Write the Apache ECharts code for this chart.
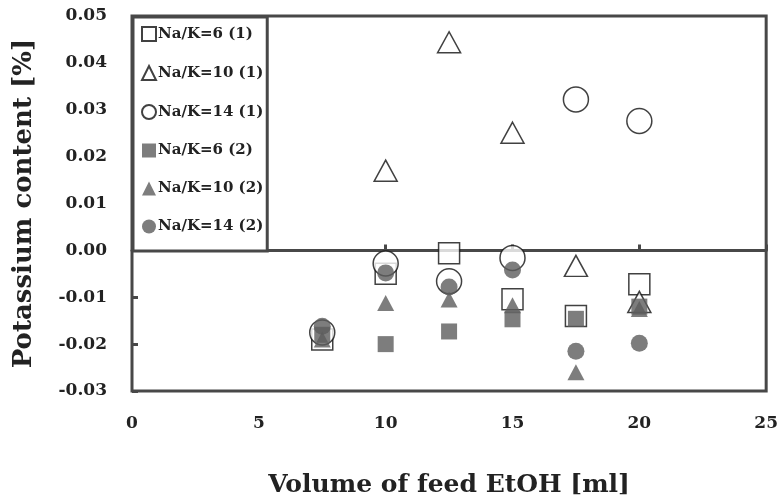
<!DOCTYPE html>
<html>
<head>
<meta charset="utf-8">
<script src="https://cdn.jsdelivr.net/npm/echarts@6/dist/echarts.min.js"></script>
<style>
html,body{margin:0;padding:0;background:#fff;}
#chart{width:781px;height:504px;}
</style>
</head>
<body>
<div id="chart"></div>
<script>
// Data
var volumes = [7.5, 10, 12.5, 15, 17.5, 20];
var na6_1  = [-0.019, -0.005, -0.0006, -0.0104, -0.014, -0.0072];
var na10_1 = [null, 0.017, 0.0444, 0.0251, -0.0033, -0.011];
var na14_1 = [-0.0175, -0.0028, -0.0066, -0.0016, 0.0322, 0.0276];
var na6_2  = [-0.018, -0.020, -0.0173, -0.0147, -0.0146, -0.012];
var na10_2 = [-0.019, -0.0112, -0.0105, -0.0117, -0.026, -0.0125];
var na14_2 = [-0.0162, -0.0048, -0.0078, -0.0042, -0.0215, -0.0198];
var seriesNames = ['Na/K=6 (1)', 'Na/K=10 (1)', 'Na/K=14 (1)', 'Na/K=6 (2)', 'Na/K=10 (2)', 'Na/K=14 (2)'];
var xTicks = [0, 5, 10, 15, 20, 25];
var yTicks = [-0.03, -0.02, -0.01, 0.00, 0.01, 0.02, 0.03, 0.04, 0.05];

function pairs(vals) {
  var out = [];
  for (var i = 0; i < volumes.length; i++) {
    if (vals[i] !== null) out.push([volumes[i], vals[i]]);
  }
  return out;
}

var FONT = '"DejaVu Serif", serif';
var DARK = '#484848';
var FILL = '#5c5c5c';

var openStyle = { color: '#ffffff', borderColor: '#111', borderWidth: 1.5 };
var filledStyle = { color: FILL, borderColor: FILL, borderWidth: 0 };

var chart = echarts.init(document.getElementById('chart'), null, { renderer: 'canvas' });
chart.setOption({
  animation: false,
  backgroundColor: '#ffffff',
  grid: {
    left: 132, right: 11, top: 16, bottom: 113,
    show: true, borderColor: DARK, borderWidth: 3, backgroundColor: 'transparent'
  },
  legend: {
    orient: 'vertical',
    left: 133, top: 17,
    backgroundColor: '#ffffff',
    borderColor: DARK, borderWidth: 3,
    padding: [9, 4, 17, 8],
    itemWidth: 14, itemHeight: 14, itemGap: 23,
    data: seriesNames,
    textStyle: { fontFamily: FONT, fontWeight: 'bold', fontSize: 15, color: '#222', padding: [0, 0, 0, -3] }
  },
  xAxis: [{
    type: 'value', min: 0, max: 25, interval: 5,
    axisLine: { show: true, onZero: true, lineStyle: { color: DARK, width: 3 } },
    axisTick: { show: true, inside: true, length: 6, lineStyle: { color: DARK, width: 3 } },
    axisLabel: { show: false },
    splitLine: { show: false }
  }, {
    type: 'value', min: 0, max: 25, interval: 5, position: 'bottom',
    axisLine: { show: false, onZero: false },
    axisTick: { show: false },
    splitLine: { show: false },
    axisLabel: {
      margin: 24,
      fontFamily: FONT, fontWeight: 'bold', fontSize: 17, color: '#222',
      formatter: function (v) { return xTicks.indexOf(v) >= 0 ? String(v) : ''; }
    },
    name: 'Volume of feed EtOH [ml]',
    nameLocation: 'middle', nameGap: 82,
    nameTextStyle: { fontFamily: FONT, fontWeight: 'bold', fontSize: 25, color: '#222' }
  }],
  yAxis: {
    type: 'value', min: -0.03, max: 0.05, interval: 0.01,
    axisLine: { show: false },
    axisTick: { show: true, inside: true, length: 6, lineStyle: { color: DARK, width: 3 } },
    splitLine: { show: false },
    axisLabel: {
      margin: 25,
      fontFamily: FONT, fontWeight: 'bold', fontSize: 17, color: '#222',
      formatter: function (v) {
        var t = yTicks.reduce(function (a, b) { return Math.abs(b - v) < Math.abs(a - v) ? b : a; });
        return t.toFixed(2);
      }
    },
    name: 'Potassium content [%]',
    nameLocation: 'middle', nameGap: 95,
    nameTextStyle: { fontFamily: FONT, fontWeight: 'bold', fontSize: 26, color: '#222' }
  },
  series: [
    { name: seriesNames[0], type: 'scatter', symbol: 'rect', symbolSize: 21, itemStyle: openStyle, data: pairs(na6_1) },
    { name: seriesNames[1], type: 'scatter', symbol: 'triangle', symbolSize: [23, 21], itemStyle: openStyle, data: pairs(na10_1) },
    { name: seriesNames[2], type: 'scatter', symbol: 'circle', symbolSize: 25, itemStyle: openStyle, data: pairs(na14_1) },
    { name: seriesNames[3], type: 'scatter', symbol: 'rect', symbolSize: 16, itemStyle: filledStyle, data: pairs(na6_2) },
    { name: seriesNames[4], type: 'scatter', symbol: 'triangle', symbolSize: [17, 16], itemStyle: filledStyle, data: pairs(na10_2) },
    { name: seriesNames[5], type: 'scatter', symbol: 'circle', symbolSize: 17, itemStyle: filledStyle, data: pairs(na14_2) }
  ]
});
</script>
</body>
</html>
